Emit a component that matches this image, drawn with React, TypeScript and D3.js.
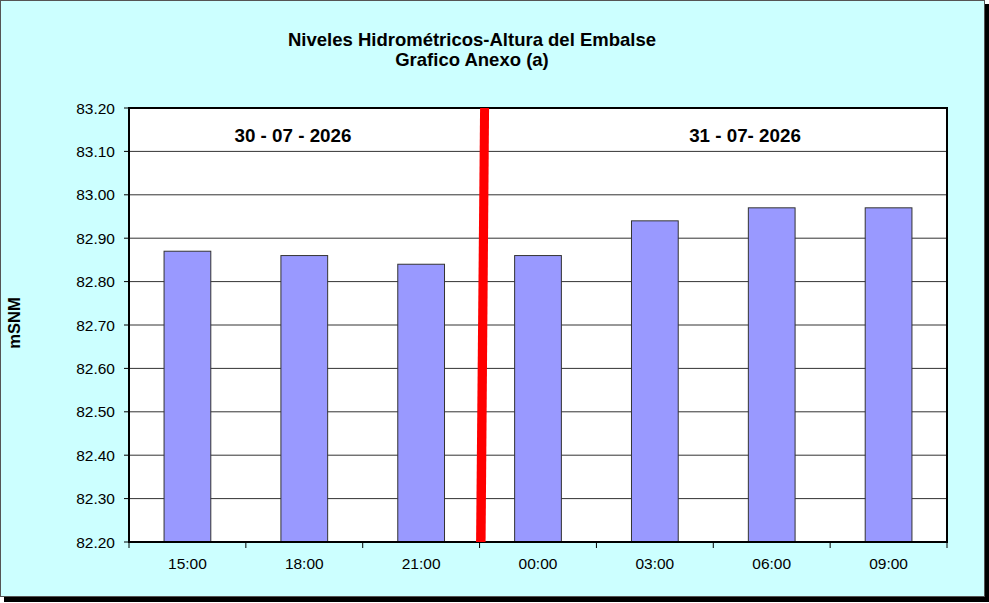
import React from "react";
import * as d3 from "d3";

const categories = ["15:00", "18:00", "21:00", "00:00", "03:00", "06:00", "09:00"];
const values = [82.87, 82.86, 82.84, 82.86, 82.94, 82.97, 82.97];
const yTicks = [82.2, 82.3, 82.4, 82.5, 82.6, 82.7, 82.8, 82.9, 83.0, 83.1, 83.2];
const titleLines = ["Niveles Hidrométricos-Altura del Embalse", "Grafico Anexo (a)"];
const dateLabels = [
  { text: "30 - 07 - 2026", from: 0, to: 3 },
  { text: "31 - 07- 2026", from: 3, to: 7 },
];
const yLabel = "mSNM";
const dividerAfterIndex = 3;

const W = 989;
const H = 603;
const plot = { left: 129, right: 947, top: 108, bottom: 542 };
const font = "'Liberation Sans', Arial, sans-serif";

export default function App() {
  const x = d3
    .scaleBand<string>()
    .domain(categories)
    .range([plot.left, plot.right])
    .paddingInner(0.6)
    .paddingOuter(0.3);
  const band = (plot.right - plot.left) / categories.length;
  const y = d3.scaleLinear().domain([82.2, 83.2]).range([plot.bottom, plot.top]);
  const boundaries = d3.range(categories.length + 1).map((i) => plot.left + i * band);
  const divX = plot.left + dividerAfterIndex * band;

  return (
    <svg
      width={W}
      height={H}
      style={{ position: "absolute", left: 0, top: 0 }}
      fontFamily={font}
    >
      {/* shadow */}
      <rect x={4} y={4} width={985} height={598} fill="#000" />
      {/* frame */}
      <rect x={0.5} y={0.5} width={984} height={596} fill="#CCFFFF" stroke="#555" strokeWidth={1} />

      {/* title */}
      {titleLines.map((t, i) => (
        <text
          key={i}
          x={472}
          y={46 + i * 20}
          textAnchor="middle"
          fontSize={18.5}
          fontWeight="bold"
          fill="#000"
        >
          {t}
        </text>
      ))}

      {/* plot background */}
      <rect
        x={plot.left}
        y={plot.top}
        width={plot.right - plot.left}
        height={plot.bottom - plot.top}
        fill="#fff"
      />

      {/* gridlines */}
      {yTicks.map((t) => (
        <line
          key={t}
          x1={plot.left}
          x2={plot.right}
          y1={y(t)}
          y2={y(t)}
          stroke="#333"
          strokeWidth={1}
        />
      ))}

      {/* bars */}
      {categories.map((c, i) => (
        <rect
          key={c}
          x={x(c)!}
          y={y(values[i])}
          width={x.bandwidth()}
          height={plot.bottom - y(values[i])}
          fill="#9999FF"
          stroke="#333"
          strokeWidth={1}
        />
      ))}

      {/* plot border */}
      <rect
        x={plot.left}
        y={plot.top}
        width={plot.right - plot.left}
        height={plot.bottom - plot.top}
        fill="none"
        stroke="#000"
        strokeWidth={2}
      />

      {/* y ticks and labels */}
      {yTicks.map((t) => (
        <g key={t}>
          <line x1={plot.left - 5} x2={plot.left} y1={y(t)} y2={y(t)} stroke="#000" strokeWidth={1} />
          <text
            x={115}
            y={y(t) + 5.5}
            textAnchor="end"
            fontSize={15.5}
            fill="#000"
          >
            {t.toFixed(2)}
          </text>
        </g>
      ))}

      {/* x ticks and labels */}
      {boundaries.map((b, i) => (
        <line key={i} x1={b} x2={b} y1={plot.bottom} y2={plot.bottom + 6} stroke="#000" strokeWidth={1} />
      ))}
      {categories.map((c) => (
        <text
          key={c}
          x={x(c)! + x.bandwidth() / 2}
          y={569}
          textAnchor="middle"
          fontSize={15.5}
          fill="#000"
        >
          {c}
        </text>
      ))}

      {/* divider */}
      <polygon
        points={`${divX + 0.5},${plot.top} ${divX + 9.5},${plot.top} ${divX + 6},${plot.bottom} ${divX - 3.5},${plot.bottom}`}
        fill="#FF0000"
      />

      {/* date labels */}
      {dateLabels.map((d) => {
        const cx = d.to === 3 ? 293 : 745;
        return (
          <text
            key={d.text}
            x={cx}
            y={142}
            textAnchor="middle"
            fontSize={18.8}
            fontWeight="bold"
            fill="#000"
          >
            {d.text}
          </text>
        );
      })}

      {/* y label */}
      <text
        transform={`translate(20,323) rotate(-90)`}
        textAnchor="middle"
        fontSize={16.5}
        fontWeight="bold"
        fill="#000"
      >
        {yLabel}
      </text>
    </svg>
  );
}
